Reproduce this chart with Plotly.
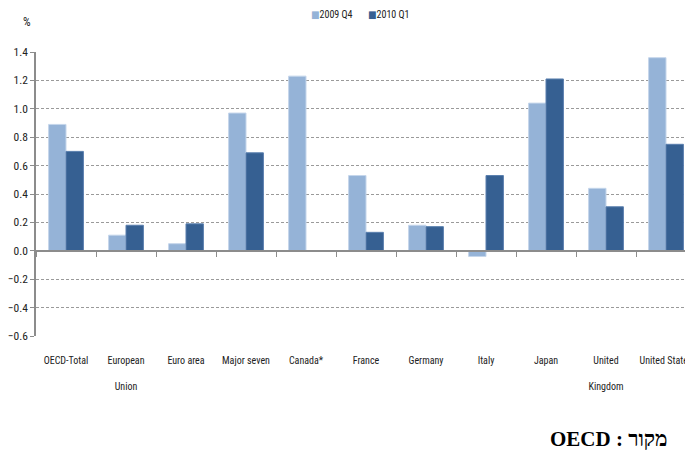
import plotly.graph_objects as go

categories = ["OECD-Total", "European<br> <br>Union", "Euro area", "Major seven", "Canada*",
              "France", "Germany", "Italy", "Japan", "United<br> <br>Kingdom", "United States"]
q4_2009 = [0.89, 0.11, 0.05, 0.97, 1.23, 0.53, 0.18, -0.04, 1.04, 0.44, 1.36]
q1_2010 = [0.70, 0.18, 0.19, 0.69, None, 0.13, 0.17, 0.53, 1.21, 0.31, 0.75]
y_ticks = [-0.6, -0.4, -0.2, 0.0, 0.2, 0.4, 0.6, 0.8, 1.0, 1.2, 1.4]

FONT = "Roboto Condensed, DejaVu Sans Condensed, sans-serif"
LIGHT, DARK = "#95B3D7", "#366092"

fig = go.Figure()
fig.add_trace(go.Bar(x=categories, y=q4_2009, name="2009 Q4", showlegend=False,
                     marker=dict(color=LIGHT, line=dict(color="#C5D6EB", width=1))))
fig.add_trace(go.Bar(x=categories, y=q1_2010, name="2010 Q1", showlegend=False,
                     marker=dict(color=DARK, line=dict(color="#5A7FAE", width=1))))

# axis line drawn at zero, with ticks between the categories
fig.add_trace(go.Scatter(x=categories, y=[None] * len(categories), xaxis="x2",
                         showlegend=False, hoverinfo="skip"))

# page body has an 8px margin, so the figure is a bit smaller than the window
fig.update_layout(
    width=685, height=447,
    margin=dict(l=28, r=0, t=44, b=119, autoexpand=False),
    plot_bgcolor="white", paper_bgcolor="white",
    font=dict(family=FONT, size=11, color="#222"),
    barmode="group", bargap=0.42, bargroupgap=0,
    xaxis=dict(range=[-0.5, 10.45], showline=False, ticks="", showgrid=False,
               tickangle=0, tickfont=dict(size=10), ticklabelstandoff=17, fixedrange=True),
    xaxis2=dict(overlaying="x", anchor="free", position=0.3, matches="x",
                showline=True, linecolor="#8c8c8c", linewidth=2,
                ticks="outside", tickson="boundaries", ticklen=5, tickcolor="#8c8c8c",
                showticklabels=False, showgrid=False),
    yaxis=dict(range=[-0.6, 1.4], tickvals=y_ticks, tickformat=".1f",
               showline=True, linecolor="#8c8c8c", linewidth=1.5,
               ticks="outside", ticklen=4, tickcolor="#8c8c8c",
               showgrid=True, gridcolor="#9a9a9a", gridwidth=1.2, griddash="3px,2px",
               zeroline=False, tickfont=dict(size=11.5)),
)

# legend as text, small squares like the original
for name, color, xp in [("2009 Q4", LIGHT, 0.415), ("2010 Q1", DARK, 0.502)]:
    fig.add_annotation(text=f'<span style="color:{color}">■</span>{name}',
                       xref="paper", yref="paper", x=xp, y=1.133,
                       xanchor="left", yanchor="middle", showarrow=False,
                       font=dict(size=10))

fig.add_annotation(text="%", xref="paper", yref="paper", x=-0.005, y=1.075,
                   xanchor="right", yanchor="bottom", showarrow=False, font=dict(size=12))
fig.add_annotation(text="<b>OECD : מקור</b>", xref="paper", yref="paper", x=0.78, y=-0.315,
                   xanchor="left", yanchor="top", showarrow=False,
                   font=dict(family="Liberation Serif, Times New Roman, serif", size=21, color="black"))

fig.write_html("out.html")
